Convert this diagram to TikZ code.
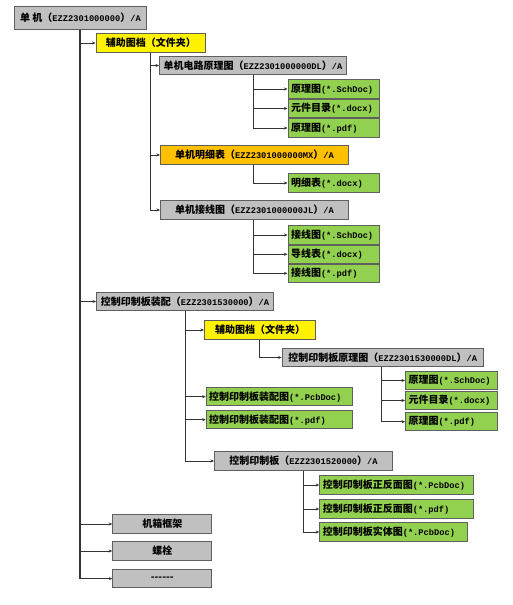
\documentclass[tikz,border=0pt]{standalone}
\usepackage{fontspec}
\setmainfont{Noto Sans CJK SC}
\newfontfamily\monofont{Liberation Mono}
\usetikzlibrary{arrows.meta}
\newcommand\en[1]{{\monofont\bfseries\fontsize{8.7}{10}\selectfont #1}}
\definecolor{boxgray}{HTML}{C0C0C0}
\definecolor{edgegray}{HTML}{5F5F5F}
\definecolor{docgreen}{HTML}{92D050}
\definecolor{bomorange}{HTML}{FFC000}
\tikzset{
  every node/.style={font=\bfseries\fontsize{10}{12}\selectfont},
  box/.style={draw=edgegray, line width=1pt, minimum height=18.5pt, inner xsep=3pt, inner ysep=0pt, anchor=west},
  gbox/.style={box, fill=boxgray, minimum width=#1pt},
  ybox/.style={box, fill=yellow, minimum width=#1pt},
  obox/.style={box, fill=bomorange, minimum width=#1pt},
  dw/.code={\pgfmathsetmacro\tw{#1-6}\tikzset{text width=\tw pt}},
  doc/.style={box, fill=docgreen, align=left, dw=#1},
  arr/.style={-{Stealth[length=3.5pt,width=3pt]}, draw=black!80, line width=0.8pt},
}
\begin{document}
\begin{tikzpicture}[x=1pt,y=-1pt]
\useasboundingbox (0,0) rectangle (513,605);
\node[gbox=132,minimum height=23pt] (root) at (14,17.5) {单~机（\en{EZZ2301000000}）\en{/A}};
\node[ybox=109.5] (aux1) at (95.5,43) {辅助图档（文件夹）};
\node[gbox=187] (sch) at (159,65.5) {单机电路原理图（\en{EZZ2301000000DL}）\en{/A}};
\node[doc=91] (s1) at (287.5,89) {原理图\en{(*.SchDoc)}};
\node[doc=91] (s2) at (287.5,108.5) {元件目录\en{(*.docx)}};
\node[doc=91] (s3) at (287.5,128) {原理图\en{(*.pdf)}};
\node[obox=188] (bom) at (160,155) {单机明细表（\en{EZZ2301000000MX}）\en{/A}};
\node[doc=91] (b1) at (287.5,183) {明细表\en{(*.docx)}};
\node[gbox=188] (wir) at (160,210) {单机接线图（\en{EZZ2301000000JL}）\en{/A}};
\node[doc=91] (w1) at (287.5,235) {接线图\en{(*.SchDoc)}};
\node[doc=91] (w2) at (287.5,254.3) {导线表\en{(*.docx)}};
\node[doc=91] (w3) at (287.5,273.3) {接线图\en{(*.pdf)}};
\node[gbox=177] (pcba) at (96,301.5) {控制印制板装配（\en{EZZ2301530000}）\en{/A}};
\node[ybox=111] (aux2) at (204,330) {辅助图档（文件夹）};
\node[gbox=201] (psch) at (281.7,357.5) {控制印制板原理图（\en{EZZ2301530000DL}）\en{/A}};
\node[doc=92] (p1) at (405,380.5) {原理图\en{(*.SchDoc)}};
\node[doc=92] (p2) at (405,400.5) {元件目录\en{(*.docx)}};
\node[doc=92] (p3) at (405,421.7) {原理图\en{(*.pdf)}};
\node[doc=146] (a1) at (205.7,396.7) {控制印制板装配图\en{(*.PcbDoc)}};
\node[doc=146] (a2) at (205.7,419.7) {控制印制板装配图\en{(*.pdf)}};
\node[gbox=178] (pcb) at (214,461) {控制印制板（\en{EZZ2301520000}）\en{/A}};
\node[doc=154] (c1) at (319.3,485) {控制印制板正反面图\en{(*.PcbDoc)}};
\node[doc=154] (c2) at (319.3,509) {控制印制板正反面图\en{(*.pdf)}};
\node[doc=147.5] (c3) at (319.3,532) {控制印制板实体图\en{(*.PcbDoc)}};
\node[gbox=99] (frame) at (112.3,524) {机箱框架};
\node[gbox=99] (bolt) at (112.3,551) {螺栓};
\node[gbox=99] (more) at (112.3,578.7) {{-}{-}{-}{-}{-}{-}};
\coordinate (t0) at ([xshift=66pt]root.south west);
\coordinate (t1) at ([xshift=54.5pt]aux1.south west);
\coordinate (t2) at ([xshift=94pt]sch.south west);
\coordinate (t3) at ([xshift=93pt]bom.south west);
\coordinate (t4) at ([xshift=93pt]wir.south west);
\coordinate (t5) at ([xshift=89pt]pcba.south west);
\coordinate (t6) at ([xshift=55.3pt]aux2.south west);
\coordinate (t7) at ([xshift=100pt]psch.south west);
\coordinate (t8) at ([xshift=89.3pt]pcb.south west);
\draw[black!80,line width=1.3pt] (t0) -- (t0 |- more.west);
\foreach \c in {aux1,pcba,frame,bolt,more} \draw[arr] (t0) |- (\c.west);
\foreach \c in {sch,bom,wir} \draw[arr] (t1) |- (\c.west);
\foreach \c in {s1,s2,s3} \draw[arr] (t2) |- (\c.west);
\draw[arr] (t3) |- (b1.west);
\foreach \c in {w1,w2,w3} \draw[arr] (t4) |- (\c.west);
\foreach \c in {aux2,a1,a2,pcb} \draw[arr] (t5) |- (\c.west);
\draw[arr] (t6) |- (psch.west);
\foreach \c in {p1,p2,p3} \draw[arr] (t7) |- (\c.west);
\foreach \c in {c1,c2,c3} \draw[arr] (t8) |- (\c.west);
\end{tikzpicture}
\end{document}
